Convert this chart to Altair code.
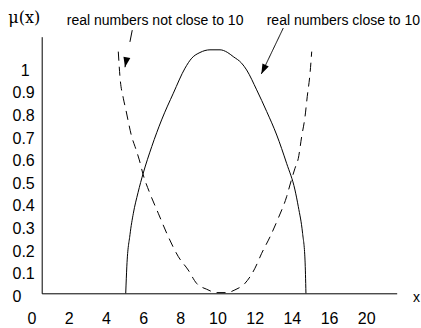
import math
import altair as alt
import pandas as pd

# Membership curve for "real numbers close to 10" (solid)
solid_x = [5.04, 5.10, 5.27, 5.45, 5.70, 5.98, 6.44, 6.97, 7.60, 8.23, 8.59, 9.03, 9.57,
           10.11, 10.50, 10.82, 11.27, 11.54, 12.08, 12.62, 13.16, 13.69, 14.14, 14.32,
           14.55, 14.68, 14.73]
solid_y = [0.0, 0.12, 0.26, 0.354, 0.445, 0.531, 0.649, 0.767, 0.885, 0.996, 1.040, 1.065,
           1.077, 1.077, 1.066, 1.047, 1.018, 0.988, 0.900, 0.804, 0.700, 0.575, 0.457,
           0.383, 0.265, 0.147, 0.0]

# Membership curve for "real numbers not close to 10" (dashed)
dashed_x = [4.64, 4.73, 4.91, 5.05, 5.18, 5.36, 5.54, 5.77, 5.98, 6.34, 6.79, 7.33, 7.87,
            8.40, 8.85, 9.39, 9.93, 10.47, 10.91, 11.45, 11.99, 12.35, 12.80, 13.24, 13.69,
            13.87, 14.14, 14.32, 14.50, 14.68, 14.80, 14.95, 15.04]
dashed_y = [1.069, 0.958, 0.863, 0.811, 0.759, 0.693, 0.649, 0.590, 0.524, 0.442, 0.354,
            0.250, 0.162, 0.103, 0.044, 0.018, 0.003, 0.003, 0.015, 0.044, 0.111, 0.177,
            0.250, 0.332, 0.427, 0.479, 0.553, 0.597, 0.693, 0.781, 0.870, 0.973, 1.069]

# Axis tick values and labels
x_ticks = [0, 2, 4, 6, 8, 10, 12, 14, 16, 18]
x_tick_labels = ["0", "2", "4", "6", "8", "10", "12", "14", "16", "20"]
y_ticks = [0, 0.1, 0.2, 0.3, 0.4, 0.5, 0.6, 0.7, 0.8, 0.9, 1.0]

# Annotation texts and their arrows (start -> tip, in data units)
note_texts = ["real numbers not close to 10", "real numbers close to 10"]
note_x = [1.87, 12.62]
note_y = [1.187, 1.187]
arrow_x = [5.39, 13.51]
arrow_y = [1.164, 1.173]
arrow_x2 = [5.00, 12.33]
arrow_y2 = [1.000, 0.970]
arrow_dash = ["dashed", "solid"]

W, H = 355, 256.6
X_DOMAIN = [0.522, 19.61]
Y_DOMAIN = [0, 1.135]
px_x = W / (X_DOMAIN[1] - X_DOMAIN[0])
px_y = H / (Y_DOMAIN[1] - Y_DOMAIN[0])

SANS = "Liberation Sans"

xs = alt.Scale(domain=X_DOMAIN, nice=False, zero=False)
ys = alt.Scale(domain=Y_DOMAIN, nice=False, zero=False)

# One axis definition per direction, shared by every layer so they merge cleanly
AX_X = alt.Axis(labels=False, ticks=False, grid=False, title=None,
                domainColor="black", domainWidth=1)
AX_Y = alt.Axis(values=y_ticks, format=".1~f", ticks=False, tickSize=0, grid=False,
                title=None, domainColor="black", domainWidth=1,
                labelFont=SANS, labelFontSize=16, labelColor="black",
                labelAlign="left", labelOffset=3,
                labelPadding={"condition": {"test": "datum.value == 1", "value": 21.5},
                              "value": 29.7})


def X(field):
    return alt.X(field, type="quantitative", scale=xs, axis=AX_X)


def Y(field):
    return alt.Y(field, type="quantitative", scale=ys, axis=AX_Y)


solid_df = pd.DataFrame({"x": solid_x, "y": solid_y})
dashed_df = pd.DataFrame({"x": dashed_x, "y": dashed_y})
ticks_df = pd.DataFrame({"x": x_ticks, "y": [0] * len(x_ticks), "label": x_tick_labels})
notes_df = pd.DataFrame({"x": note_x, "y": note_y, "text": note_texts})

angles = []
for x1, y1, x2, y2 in zip(arrow_x, arrow_y, arrow_x2, arrow_y2):
    dxp = (x2 - x1) * px_x
    dyp = -(y2 - y1) * px_y
    angles.append(math.degrees(math.atan2(-dxp, dyp)) % 360)
arrows_df = pd.DataFrame({"x": arrow_x, "y": arrow_y, "x2": arrow_x2, "y2": arrow_y2,
                          "dash": arrow_dash, "angle": angles})

solid = alt.Chart(solid_df).mark_line(color="black", strokeWidth=1,
                                      interpolate="monotone").encode(x=X("x"), y=Y("y"))

dashed = alt.Chart(dashed_df).mark_line(color="black", strokeWidth=1, strokeDash=[9, 6],
                                        interpolate="monotone").encode(x=X("x"), y=Y("y"))

xlabels = alt.Chart(ticks_df).mark_text(font=SANS, fontSize=16, color="black",
                                        baseline="middle", dy=26).encode(
    x=X("x"), y=Y("y"), text="label:N")

notes = alt.Chart(notes_df).mark_text(font=SANS, fontSize=14, color="black",
                                      align="left", baseline="alphabetic").encode(
    x=X("x"), y=Y("y"), text="text:N")

shafts = alt.Chart(arrows_df).mark_rule(color="black", strokeWidth=1).encode(
    x=X("x"), y=Y("y"), x2="x2:Q", y2="y2:Q",
    strokeDash=alt.StrokeDash("dash:N", legend=None,
                              scale=alt.Scale(domain=["dashed", "solid"],
                                              range=[[12, 20], [1, 0]])),
)

heads = alt.Chart(arrows_df).mark_point(shape="M0,0L-0.35,-1L0.35,-1Z", filled=True,
                                        color="black", opacity=1, size=400).encode(
    x=X("x2"), y=Y("y2"), angle=alt.Angle("angle:Q", scale=None))

mu_df = pd.DataFrame({"x": [-1.27], "y": [1.196], "t": ["μ(x)"]})
mu_label = alt.Chart(mu_df).mark_text(
    font="DejaVu Serif", fontSize=16, color="black", align="left",
    baseline="alphabetic").encode(x=X("x"), y=Y("y"), text="t:N")

xname_df = pd.DataFrame({"x": [20.68], "y": [-0.021], "t": ["x"]})
x_label = alt.Chart(xname_df).mark_text(
    font=SANS, fontSize=14, color="black", align="center",
    baseline="middle").encode(x=X("x"), y=Y("y"), text="t:N")

chart = alt.layer(solid, dashed, xlabels, notes, shafts, heads, mu_label, x_label).properties(
    width=W, height=H,
    autosize=alt.AutoSizeParams(type="none"),
    padding={"left": 41.7, "top": 36.7, "right": 24.3, "bottom": 34.7},
    background="white",
).configure_view(stroke=None)

chart.save("out.html", embed_options={"renderer": "svg", "actions": False})
